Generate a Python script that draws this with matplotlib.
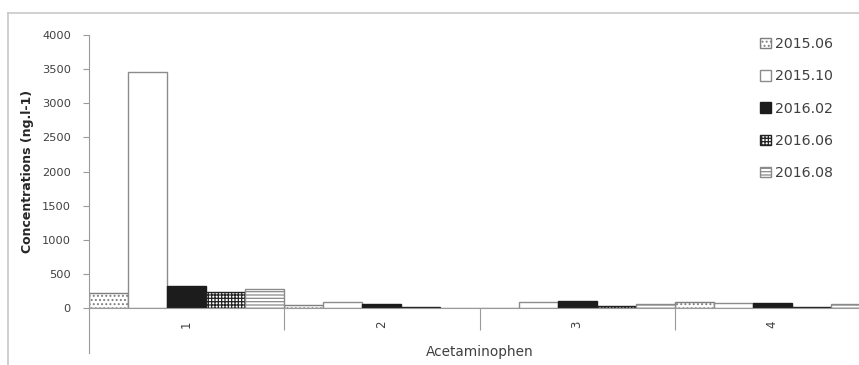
import matplotlib
matplotlib.use("Agg")
import matplotlib.pyplot as plt
from matplotlib.lines import Line2D
import numpy as np

plt.rcParams['font.family'] = ['DejaVu Sans']
plt.rcParams['hatch.linewidth'] = 0.9

categories = ["1", "2", "3", "4"]
series_names = ["2015.06", "2015.10", "2016.02", "2016.06", "2016.08"]
v_2015_06 = [215, 50, 5, 95]
v_2015_10 = [3455, 95, 85, 80]
v_2016_02 = [320, 60, 105, 80]
v_2016_06 = [235, 10, 35, 20]
v_2016_08 = [285, 5, 55, 60]
values = [v_2015_06, v_2015_10, v_2016_02, v_2016_06, v_2016_08]

styles = [
    dict(facecolor="white", edgecolor="#7f7f7f", hatch="...."),
    dict(facecolor="white", edgecolor="#8c8c8c", hatch=None),
    dict(facecolor="#1c1c1c", edgecolor="#1c1c1c", hatch=None),
    dict(facecolor="white", edgecolor="#222222", hatch="+++++"),
    dict(facecolor="white", edgecolor="#8a8a8a", hatch="-----"),
]

TXT = "#404040"
fig = plt.figure(figsize=(8.59, 3.65), dpi=100)
W, H = 859, 365
x0, x1 = 89, 870
y0, ytop = 308, 35
ax = fig.add_axes([x0 / W, 1 - y0 / H, (x1 - x0) / W, (y0 - ytop) / H])

x = np.arange(1, len(categories) + 1)
bw = 0.2
for i, (name, vals) in enumerate(zip(series_names, values)):
    st = styles[i]
    ax.bar(x - 0.5 + bw * (i + 0.5), vals, width=bw, label=name,
           facecolor=st["facecolor"], edgecolor=st["edgecolor"],
           hatch=st["hatch"], linewidth=1.0, zorder=2)

ax.set_xlim(0.5, 4.5)
ax.set_ylim(0, 4000)
ax.set_yticks(np.arange(0, 4001, 500))
ax.tick_params(axis='y', length=4, width=0.8, color="#9a9a9a", pad=9,
               labelsize=8.2, labelcolor=TXT)
ax.set_xticks(x)
ax.set_xticklabels(categories, rotation=90, fontsize=8.5, color=TXT)
ax.tick_params(axis='x', which='major', length=0, pad=9)
ax.set_xticks([1.5, 2.5, 3.5], minor=True)
ax.tick_params(axis='x', which='minor', length=16, width=0.8, color="#9a9a9a")

for s in ["top", "right"]:
    ax.spines[s].set_visible(False)
for s in ["left", "bottom"]:
    ax.spines[s].set_color("#9a9a9a")
    ax.spines[s].set_linewidth(0.8)

# y axis line extends below the category axis
ax.plot([0.5, 0.5], [0, -(353 - y0) / (y0 - ytop) * 4000], color="#9a9a9a",
        lw=0.8, clip_on=False, zorder=1)

ax.set_ylabel("Concentrations (ng.l-1)", fontsize=9, fontweight="bold",
              color="#262626")
ax.yaxis.set_label_coords((28 - x0) / (x1 - x0), 0.5)
ax.set_xlabel("Acetaminophen", fontsize=9.8, color=TXT)
ax.xaxis.set_label_coords(0.5, -(352 - y0) / (y0 - ytop))
ax.xaxis.label.set_va("center")
ax.yaxis.label.set_va("center")

leg = ax.legend(loc="upper left", bbox_to_anchor=(760 / W, 1 - 37 / H),
                bbox_transform=fig.transFigure, frameon=False, fontsize=10.2,
                handlelength=0.75, handleheight=0.75, handletextpad=0.3,
                labelspacing=1.29, borderaxespad=0, borderpad=0)
for t in leg.get_texts():
    t.set_color(TXT)

# chart-area border (top and left)
fig.add_artist(Line2D([8 / W, 1], [1 - 13 / H, 1 - 13 / H], color="#c8c8c8", lw=1.2,
                      transform=fig.transFigure))
fig.add_artist(Line2D([8 / W, 8 / W], [0, 1 - 13 / H], color="#c8c8c8", lw=1.2,
                      transform=fig.transFigure))

fig.savefig("out.png", dpi=100)
